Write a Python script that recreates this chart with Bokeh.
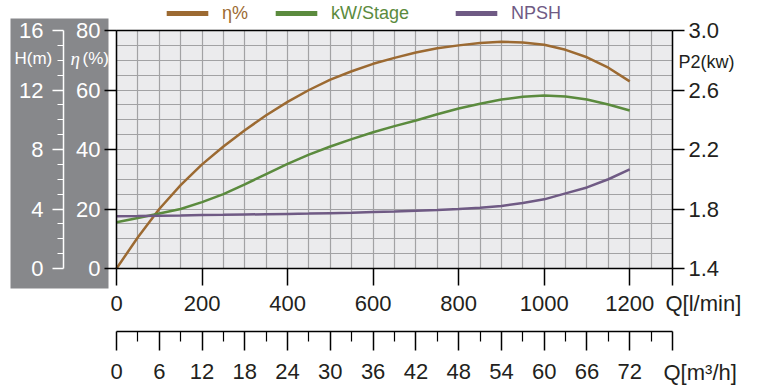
from bokeh.plotting import figure
from bokeh.models import (Range1d, LinearAxis, FixedTicker, SingleIntervalTicker, BoxAnnotation,
                          Label, Legend, LegendItem, NumeralTickFormatter, Grid)
from bokeh.embed import file_html
from bokeh.resources import INLINE

# ---------------- data ----------------
q_lmin = [0, 50, 100, 150, 200, 250, 300, 350, 400, 450, 500, 550, 600, 650,
          700, 750, 800, 850, 900, 950, 1000, 1050, 1100, 1150, 1200]
eta_pct = [0, 10.5, 20, 28, 35, 41, 46.5, 51.5, 56, 60, 63.5, 66.3, 68.8, 70.8,
           72.6, 74, 75, 75.8, 76.2, 76, 75.2, 73.5, 71, 67.5, 62.9]
kw_stage = [1.711, 1.74, 1.77, 1.80, 1.846, 1.90, 1.965, 2.035, 2.104, 2.165, 2.22, 2.27, 2.316, 2.357,
            2.395, 2.437, 2.476, 2.508, 2.536, 2.555, 2.563, 2.556, 2.536, 2.502, 2.462]
npsh_m = [3.52, 3.53, 3.55, 3.57, 3.6, 3.61, 3.63, 3.65, 3.67, 3.69, 3.72, 3.75, 3.79, 3.83,
          3.88, 3.93, 4.0, 4.08, 4.2, 4.4, 4.65, 5.05, 5.45, 6.0, 6.66]

series_names = ["η%", "kW/Stage", "NPSH"]

x_ticks_lmin = [0, 200, 400, 600, 800, 1000, 1200, 1300]
x_ticks_m3h = [0, 6, 12, 18, 24, 30, 36, 42, 48, 54, 60, 66, 72, 78]
x_minor_m3h = [3, 9, 15, 21, 27, 33, 39, 45, 51, 57, 63, 69, 75]
eta_ticks = [0, 20, 40, 60, 80]
h_ticks = [0, 4, 8, 12, 16]
h_minor = [1, 2, 3, 5, 6, 7, 9, 10, 11, 13, 14, 15]
p2_ticks = [1.4, 1.8, 2.2, 2.6, 3.0]

# axis extents
X_END = 1300      # l/min
Y_END = 80        # eta %
H_END = 16        # m
P2_START, P2_END = 1.4, 3.0
M3H_PER_LMIN = 72 / 1200

# ---------------- style / layout ----------------
BROWN = "#9c6a32"
GREEN = "#5b8b3e"
PURPLE = "#6f5a84"
PANEL = "#87888b"
PLOTBG = "#ebebed"
GRIDC = "#a2a2a4"
INK = "#231f20"
FONT = "Liberation Sans"
TICK_FS = "22px"

W, HGT = 758, 385
PX_X0, PX_X1 = 116, 672   # pixel of x=0 and x=X_END
PX_Y0, PX_Y1 = 268, 30    # pixel of y=0 and y=Y_END
kx = (PX_X1 - PX_X0) / X_END
ky = (PX_Y0 - PX_Y1) / Y_END


def dx(px):
    return (px - PX_X0) / kx


def dy(py):
    return (PX_Y0 - py) / ky


p = figure(width=W, height=HGT, x_range=Range1d(dx(0), dx(W)), y_range=Range1d(dy(HGT), dy(0)),
           output_backend="svg", toolbar_location=None,
           min_border_left=0, min_border_right=0, min_border_top=0, min_border_bottom=0)
hs = H_END / Y_END
ps = (P2_END - P2_START) / Y_END
p.extra_y_ranges = {"H": Range1d(dy(HGT) * hs, dy(0) * hs),
                    "P2": Range1d(P2_START + dy(HGT) * ps, P2_START + dy(0) * ps)}
p.extra_x_ranges = {"m3h": Range1d(dx(0) * M3H_PER_LMIN, dx(W) * M3H_PER_LMIN)}
p.background_fill_color = "white"
p.border_fill_color = "white"
p.outline_line_color = None

# grey panel and plot-area background
p.add_layout(BoxAnnotation(left=dx(10), right=dx(108), top=dy(18), bottom=dy(288),
                           fill_color=PANEL, fill_alpha=1, line_color=None, level="image"))
p.add_layout(BoxAnnotation(left=0, right=X_END, bottom=0, top=Y_END,
                           fill_color=PLOTBG, fill_alpha=1, line_color=None, level="image"))

# grid
if "cross_bounds" in Grid.properties():
    p.xgrid.ticker = SingleIntervalTicker(interval=50, num_minor_ticks=0)
    p.ygrid.ticker = SingleIntervalTicker(interval=5, num_minor_ticks=0)
    p.xgrid.bounds = (0, X_END)
    p.xgrid.cross_bounds = (0, Y_END)
    p.ygrid.bounds = (0, Y_END)
    p.ygrid.cross_bounds = (0, X_END)
    for g in (p.xgrid, p.ygrid):
        g.grid_line_color = GRIDC
        g.grid_line_width = 1.2
else:
    p.grid.visible = False
    gx = LinearAxis(ticker=SingleIntervalTicker(interval=50, num_minor_ticks=0), fixed_location=0,
                    bounds=(0, X_END), major_tick_in=PX_Y0 - PX_Y1, major_tick_out=0,
                    axis_line_color=None, major_tick_line_color=GRIDC, major_tick_line_width=1.2,
                    minor_tick_line_color=None, major_label_text_alpha=0, level="underlay")
    gy = LinearAxis(ticker=SingleIntervalTicker(interval=5, num_minor_ticks=0), fixed_location=0,
                    bounds=(0, Y_END), major_tick_in=PX_X1 - PX_X0, major_tick_out=0,
                    axis_line_color=None, major_tick_line_color=GRIDC, major_tick_line_width=1.2,
                    minor_tick_line_color=None, major_label_text_alpha=0, level="underlay")
    p.add_layout(gx, "below")
    p.add_layout(gy, "left")


def style_axis(a, label_color=INK):
    a.major_label_text_font = FONT
    a.major_label_text_font_size = TICK_FS
    a.major_label_text_color = label_color
    a.major_tick_in = 0
    a.minor_tick_in = 0


# bottom axis Q[l/min]
xa = p.xaxis[0]
style_axis(xa)
xa.fixed_location = 0
xa.bounds = (0, X_END)
xa.ticker = FixedTicker(ticks=x_ticks_lmin)
xa.major_label_overrides = {1300: ""}
xa.major_tick_out = 17
xa.minor_tick_line_color = None
xa.axis_line_color = "black"
xa.axis_line_width = 1.5
xa.major_tick_line_color = "black"
xa.major_tick_line_width = 1.5
xa.major_label_standoff = 10

# left eta axis
ya = p.yaxis[0]
style_axis(ya, "white")
ya.fixed_location = 0
ya.bounds = (0, Y_END)
ya.ticker = FixedTicker(ticks=eta_ticks)
ya.major_tick_out = 12
ya.minor_tick_line_color = None
ya.axis_line_color = "black"
ya.axis_line_width = 1.5
ya.major_tick_line_color = "black"
ya.major_tick_line_width = 1.5
ya.major_label_standoff = 4

# H axis
ha = LinearAxis(y_range_name="H", ticker=FixedTicker(ticks=h_ticks, minor_ticks=h_minor),
                fixed_location=dx(63), bounds=(0, H_END))
style_axis(ha, "white")
ha.axis_line_color = "white"
ha.axis_line_width = 1.5
ha.major_tick_out = 11
ha.minor_tick_out = 6
ha.major_tick_line_color = "white"
ha.minor_tick_line_color = "white"
ha.major_tick_line_width = 1.5
ha.minor_tick_line_width = 1.2
ha.major_label_standoff = 9
p.add_layout(ha, "left")

# right P2 axis
ra = LinearAxis(y_range_name="P2", ticker=FixedTicker(ticks=p2_ticks),
                formatter=NumeralTickFormatter(format="0.0"),
                fixed_location=X_END, bounds=(P2_START, P2_END))
style_axis(ra)
ra.axis_line_color = "black"
ra.axis_line_width = 1.5
ra.major_tick_out = 12
ra.minor_tick_line_color = None
ra.major_tick_line_color = "black"
ra.major_tick_line_width = 1.5
ra.major_label_standoff = 4
p.add_layout(ra, "right")

# top frame line
ta = LinearAxis(ticker=FixedTicker(ticks=[]), fixed_location=Y_END, bounds=(0, X_END))
ta.axis_line_color = "black"
ta.axis_line_width = 1.5
ta.major_tick_line_color = None
ta.minor_tick_line_color = None
p.add_layout(ta, "above")

# second x axis Q[m3/h]
xb = LinearAxis(x_range_name="m3h", ticker=FixedTicker(ticks=x_ticks_m3h, minor_ticks=x_minor_m3h),
                fixed_location=dy(331), bounds=(0, x_ticks_m3h[-1]))
style_axis(xb)
xb.major_label_overrides = {78: ""}
xb.major_tick_out = 19
xb.minor_tick_out = 10
xb.axis_line_color = "black"
xb.axis_line_width = 1.5
xb.major_tick_line_color = "black"
xb.major_tick_line_width = 1.5
xb.minor_tick_line_color = "black"
xb.minor_tick_line_width = 1.2
xb.major_label_standoff = 13
p.add_layout(xb, "below")

# curves
p.line(q_lmin, eta_pct, line_color=BROWN, line_width=2.5)
p.line(q_lmin, kw_stage, y_range_name="P2", line_color=GREEN, line_width=2.5)
p.line(q_lmin, npsh_m, y_range_name="H", line_color=PURPLE, line_width=2.5)

# legend swatches: zero-width bars (draw nothing in the plot, only in the legend)
LEG_H = 21
for name, col, lx, ys, rng in zip(series_names, [BROWN, GREEN, PURPLE], [161, 270, 450],
                                  [eta_pct, kw_stage, npsh_m], ["default", "P2", "H"]):
    r = p.vbar(x=q_lmin, top=ys, width=0, fill_color=col, line_color=None, y_range_name=rng)
    leg = Legend(items=[LegendItem(label=name, renderers=[r])],
                 location=(lx, HGT - 13 - LEG_H / 2),
                 orientation="horizontal", glyph_width=52, glyph_height=6, label_standoff=9,
                 padding=0, margin=0, border_line_color=None, background_fill_alpha=0,
                 label_height=LEG_H,
                 label_text_font=FONT, label_text_font_size="18px", label_text_color=col)
    p.add_layout(leg, "center")


# text labels
def lab(x, y, t, color=INK, size="22px", style="normal", font=FONT):
    p.add_layout(Label(x=dx(x), y=dy(y), text=t,
                       text_font=font, text_font_size=size, text_color=color,
                       text_font_style=style, text_align="left", text_baseline="middle"))


lab(665, 303, "Q[l/min]")
lab(663, 372, "Q[m³/h]")
lab(678, 61, "P2(kw)", size="18px")
lab(14, 58, "H(m)", color="white", size="17px")
lab(70, 58, "η", color="white", size="19px", style="italic", font="Liberation Serif")
lab(82, 58, "(%)", color="white", size="17px")

open("out.html", "w").write(file_html(p, INLINE))
